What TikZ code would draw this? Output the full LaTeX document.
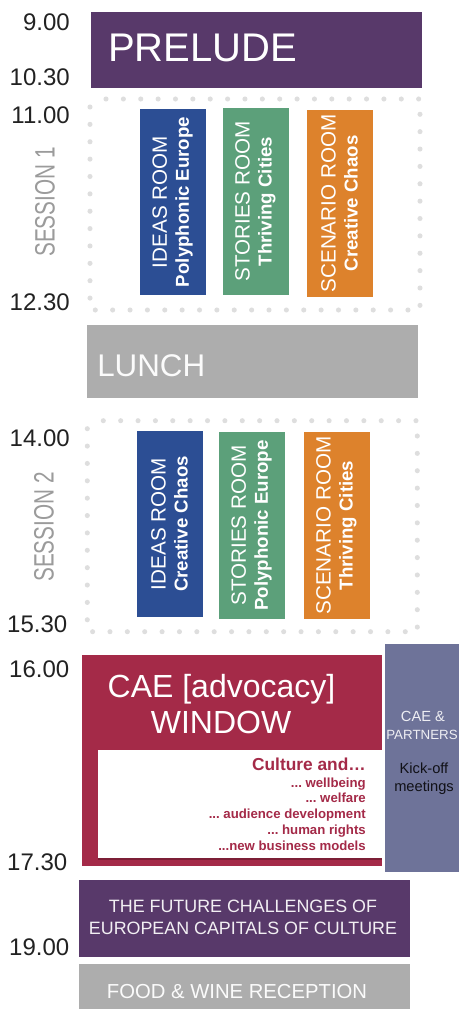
\documentclass[tikz,border=0pt]{standalone}
\usepackage{fontspec}
\usepackage{graphicx}
\setmainfont{Liberation Sans}

\definecolor{prelude}{HTML}{58396A}
\definecolor{ideas}{HTML}{2C4E94}
\definecolor{stories}{HTML}{5CA07A}
\definecolor{scenario}{HTML}{DD822C}
\definecolor{lunch}{HTML}{ADADAD}
\definecolor{cae}{HTML}{A42A48}
\definecolor{partners}{HTML}{6E7399}
\definecolor{dots}{HTML}{DEDEDE}
\definecolor{hours}{HTML}{222222}
\definecolor{session}{HTML}{9B9B9B}

\newcommand\thdots{...}

\tikzset{
  hour/.style={anchor=base east, text=hours, inner sep=0pt, font=\fontsize{18}{18}\selectfont},
  sess/.style={rotate=90, text=session, inner sep=0pt, font=\fontsize{21}{21}\selectfont},
  room/.style={fill=#1, rotate=90, minimum width=140pt, minimum height=49.5pt, inner sep=0pt,
    text=white, align=center, font=\fontsize{15.5}{16.5}\selectfont},
  dot/.style={fill=dots},
  cult/.style={anchor=base east, text=cae, inner sep=0pt, font=\bfseries\fontsize{9.9}{10}\selectfont},
}

\begin{document}
\begin{tikzpicture}[x=0.75pt, y=-0.75pt]
\fill[white] (0,0) rectangle (459,1009);
\useasboundingbox (0,0) rectangle (459,1009);

\node[hour] (h900) at (70,30.7) {9.00};
\node[hour] (h1030) at (70,86) {10.30};
\node[hour] (h1100) at (70,124) {11.00};
\node[hour] (h1230) at (70,310) {12.30};
\node[hour] (h1400) at (70,446) {14.00};
\node[hour] (h1530) at (67.5,632.7) {15.30};
\node[hour] (h1600) at (69.5,677.3) {16.00};
\node[hour] (h1730) at (67.5,870) {17.30};
\node[hour] (h1900) at (69.5,955.7) {19.00};

\fill[prelude] (91,12) rectangle (422,88);
\node[anchor=base west, text=white, inner sep=0pt, font=\fontsize{30}{30}\selectfont] (prel) at (108,62) {PRELUDE};

\foreach \dx/\dy in {0/0, -2.7/321.7}{
  \begin{scope}[shift={(\dx,\dy)}]
    \foreach \i in {0,...,18} \fill[dot] (106+\i*17.37,99) circle (1.9pt);
    \foreach \i in {0,...,18} \fill[dot] (95.3+\i*17.37,310) circle (1.9pt);
    \foreach \i in {0,...,11} \fill[dot] (90,107+\i*17.37) circle (1.9pt);
    \foreach \i in {0,...,11} \fill[dot] (420,114.3+\i*17.37) circle (1.9pt);
  \end{scope}
}

\node[sess] (sone) at (45,202) {\scalebox{0.74}[1]{SESSION 1}};
\node[room=ideas] (ione) at (172.5,202) {IDEAS ROOM\\\textbf{\fontsize{14}{16.5}\selectfont Polyphonic Europe}};
\node[room=stories] (stone) at (255.5,201.5) {STORIES ROOM\\\textbf{\fontsize{14}{16.5}\selectfont Thriving Cities}};
\node[room=scenario] (scone) at (339.5,203.5) {SCENARIO ROOM\\\textbf{\fontsize{14}{16.5}\selectfont Creative Chaos}};

\fill[lunch] (87,325) rectangle (418,398);
\node[anchor=base west, text=white!95!lunch, inner sep=0pt, font=\fontsize{23.5}{24}\selectfont] (lunch) at (97,376) {LUNCH};

\node[sess] (stwo) at (44,527) {\scalebox{0.74}[1]{SESSION 2}};
\node[room=ideas] (itwo) at (169.5,524) {IDEAS ROOM\\\textbf{\fontsize{14}{16.5}\selectfont Creative Chaos}};
\node[room=stories] (sttwo) at (251.5,525.5) {STORIES ROOM\\\textbf{\fontsize{14}{16.5}\selectfont Polyphonic Europe}};
\node[room=scenario] (sctwo) at (336.5,525.5) {SCENARIO ROOM\\\textbf{\fontsize{14}{16.5}\selectfont Thriving Cities}};

\fill[cae] (82,655) rectangle (382,866);
\node[anchor=base, text=white, inner sep=0pt, font=\fontsize{24}{24}\selectfont] (cwa) at (221.5,697) {CAE [advocacy]};
\node[anchor=base, text=white, inner sep=0pt, font=\fontsize{24}{24}\selectfont] (cwb) at (221,733) {WINDOW};
\fill[cae!60!black, opacity=0.6] (98,752) rectangle (382,860);
\fill[white] (98,750) rectangle (382,858);
\node[cult, font=\bfseries\fontsize{13}{13}\selectfont] (cult) at (366,770) {Culture and…};
\foreach \t [count=\i] in {{\thdots\ wellbeing}, {\thdots\ welfare}, {\thdots\ audience development}, {\thdots\ human rights}, {\thdots new business models}}
  \node[cult] (cult\i) at (366,771.25+\i*15.75) {\t};

\fill[partners] (385,644) rectangle (459,872);
\node[anchor=base, text=white!88!partners, inner sep=0pt, font=\fontsize{11}{11}\selectfont] (cpa) at (423,721) {CAE \&};
\node[anchor=base, text=white!88!partners, inner sep=0pt, font=\fontsize{10}{10}\selectfont] (cpb) at (422,739) {PARTNERS};
\node[anchor=base, text=black!85!partners, inner sep=0pt, font=\fontsize{11}{11}\selectfont] (kick) at (424,773) {Kick-off};
\node[anchor=base, text=black!85!partners, inner sep=0pt, font=\fontsize{11}{11}\selectfont] (meet) at (424,791) {meetings};

\fill[prelude] (79,880) rectangle (410,957);
\node[anchor=base, text=white!92!prelude, inner sep=0pt, font=\fontsize{13.4}{13.4}\selectfont] (fut) at (243,912) {THE FUTURE CHALLENGES OF};
\node[anchor=base, text=white!92!prelude, inner sep=0pt, font=\fontsize{13.4}{13.4}\selectfont] (eur) at (243,934) {EUROPEAN CAPITALS OF CULTURE};

\fill[lunch] (79,964) rectangle (410,1009);
\node[anchor=base, text=white!95!lunch, inner sep=0pt, font=\fontsize{15.2}{15.2}\selectfont] (food) at (237,998) {FOOD \& WINE RECEPTION};
\end{tikzpicture}
\end{document}
